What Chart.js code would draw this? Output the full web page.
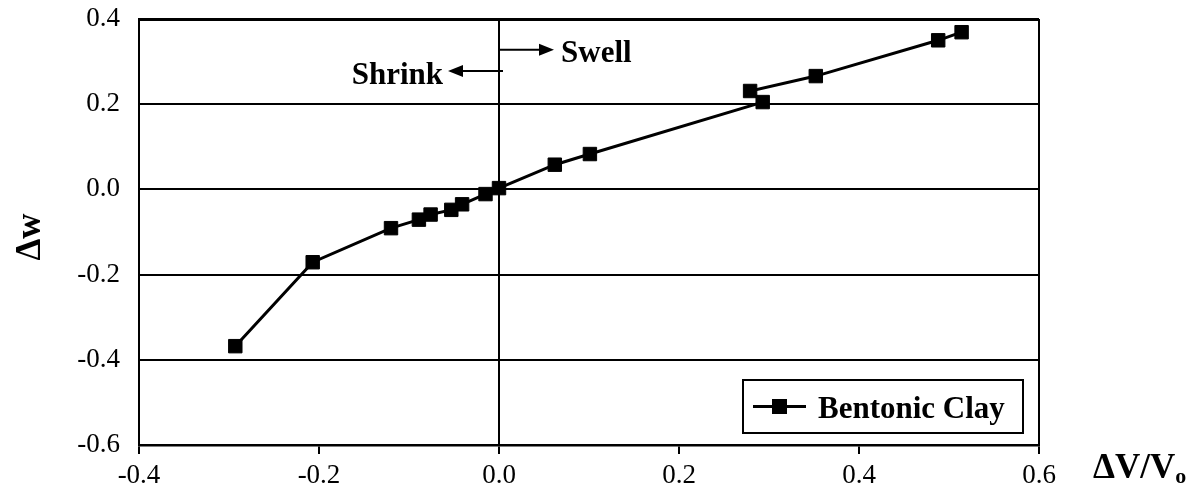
<!DOCTYPE html>
<html>
<head>
<meta charset="utf-8">
<title>Bentonic Clay: water content vs. volume change</title>
<script src="https://cdn.jsdelivr.net/npm/chart.js@4/dist/chart.umd.min.js"></script>
<style>
  html, body { margin: 0; padding: 0; background: #fff; }
  #wrap { position: relative; width: 1200px; height: 487px; }
</style>
</head>
<body>
<div id="wrap"><canvas id="chart"></canvas></div>
<script>
// measured points, in the order they were joined
const volumeChange = [-0.293, -0.207, -0.120, -0.089, -0.076, -0.053, -0.041, -0.015, 0.000, 0.062, 0.101, 0.293, 0.279, 0.352, 0.488, 0.514];
const waterChange  = [-0.368, -0.171, -0.091, -0.071, -0.059, -0.048, -0.035, -0.011, 0.003, 0.058, 0.083, 0.205, 0.231, 0.266, 0.350, 0.369];
const seriesName = "Bentonic Clay";

const xMin = -0.4, xMax = 0.6;
const yMin = -0.6, yMax = 0.4;
const tickStep = 0.2;

const SERIF = "'Liberation Serif', 'Times New Roman', serif";

Chart.defaults.font.family = SERIF;
Chart.defaults.color = "#000";

const points = volumeChange.map((x, i) => ({ x, y: waterChange[i] }));

function arrow(ctx, x1, y, x2) {
  const dir = Math.sign(x2 - x1);
  ctx.beginPath();
  ctx.moveTo(x1, y);
  ctx.lineTo(x2 - dir * 12, y);
  ctx.stroke();
  ctx.beginPath();
  ctx.moveTo(x2, y);
  ctx.lineTo(x2 - dir * 15, y - 6);
  ctx.lineTo(x2 - dir * 15, y + 6);
  ctx.closePath();
  ctx.fill();
}

// Shrink/Swell arrows, axis titles and the boxed legend
const extras = {
  id: "extras",
  afterDraw(chart) {
    const { ctx, chartArea: area, scales: { x, y } } = chart;
    const ds = chart.data.datasets[0];
    const x0 = x.getPixelForValue(0);
    ctx.save();
    ctx.fillStyle = "#000";
    ctx.strokeStyle = "#000";
    ctx.lineWidth = 2;

    arrow(ctx, x0, y.getPixelForValue(0.328), x0 + 55);
    arrow(ctx, x0 + 4, y.getPixelForValue(0.278), x0 - 51);

    ctx.font = "bold 31px " + SERIF;
    ctx.textBaseline = "alphabetic";
    ctx.textAlign = "left";
    ctx.fillText("Swell", x0 + 62, y.getPixelForValue(0.300));
    ctx.textAlign = "right";
    ctx.fillText("Shrink", x0 - 56, y.getPixelForValue(0.248));

    // y title, reading upwards
    ctx.save();
    ctx.translate(31, (area.top + area.bottom) / 2 + 5);
    ctx.rotate(-Math.PI / 2);
    ctx.textAlign = "center";
    ctx.textBaseline = "middle";
    ctx.font = "bold 35px " + SERIF;
    ctx.fillText("\u0394w", 0, 0);
    ctx.restore();

    // x title to the right of the axis
    ctx.textAlign = "left";
    ctx.textBaseline = "alphabetic";
    ctx.font = "bold 35px " + SERIF;
    const tx = area.right + 54;
    const ty = area.bottom + 33;
    ctx.fillText("\u0394V/V", tx, ty);
    const w = ctx.measureText("\u0394V/V").width;
    ctx.font = "bold 22px " + SERIF;
    ctx.fillText("o", tx + w, ty + 5);

    // legend box
    const bx = area.right - 296, by = area.bottom - 65, bw = 280, bh = 53;
    ctx.fillStyle = "#fff";
    ctx.fillRect(bx, by, bw, bh);
    ctx.lineWidth = 2;
    ctx.strokeRect(bx, by, bw, bh);
    const cy = by + bh / 2;
    ctx.lineWidth = ds.borderWidth;
    ctx.strokeStyle = ds.borderColor;
    ctx.beginPath();
    ctx.moveTo(bx + 10, cy);
    ctx.lineTo(bx + 63, cy);
    ctx.stroke();
    ctx.fillStyle = ds.backgroundColor;
    ctx.fillRect(bx + 29, cy - 7.5, 15, 15);
    ctx.fillStyle = "#000";
    ctx.font = "bold 31px " + SERIF;
    ctx.fillText(ds.label, bx + 75, cy + 11);
    ctx.restore();
  }
};

new Chart(document.getElementById("chart"), {
  type: "scatter",
  data: {
    datasets: [{
      label: seriesName,
      data: points,
      showLine: true,
      borderColor: "#000",
      backgroundColor: "#000",
      borderWidth: 3,
      tension: 0,
      pointStyle: "rect",
      pointRadius: 9.5,
      pointHoverRadius: 9.5,
      pointBorderWidth: 1,
      pointBackgroundColor: "#000",
      pointBorderColor: "#000"
    }]
  },
  options: {
    responsive: true,
    maintainAspectRatio: false,
    animation: false,
    events: [],
    layout: { padding: { left: 0, top: 19, right: 161, bottom: 0 } },
    plugins: {
      legend: { display: false },
      tooltip: { enabled: false }
    },
    scales: {
      x: {
        type: "linear",
        min: xMin,
        max: xMax,
        afterFit: (s) => { s.height = 42; },
        ticks: {
          stepSize: tickStep,
          font: { size: 27 },
          padding: 6,
          callback: (v) => v.toFixed(1)
        },
        grid: {
          color: (c) => (Math.abs(c.tick.value) < 1e-9 || Math.abs(c.tick.value - xMax) < 1e-9) ? "#000" : "rgba(0,0,0,0)",
          lineWidth: 2,
          drawTicks: true,
          tickLength: 9,
          tickColor: "#000",
          tickWidth: 2
        },
        border: { color: "#000", width: 2.5 }
      },
      y: {
        type: "linear",
        min: yMin,
        max: yMax,
        afterFit: (s) => { s.width = 139; },
        ticks: {
          stepSize: tickStep,
          font: { size: 27 },
          padding: 0,
          callback: (v) => v.toFixed(1)
        },
        grid: {
          color: "#000",
          lineWidth: (c) => Math.abs(c.tick.value - yMax) < 1e-9 ? 3 : 2,
          // invisible tick marks keep the labels clear of the axis
          drawTicks: true,
          tickLength: 19,
          tickColor: "rgba(0,0,0,0)"
        },
        border: { color: "#000", width: 2 }
      }
    }
  },
  plugins: [extras]
});
</script>
</body>
</html>
